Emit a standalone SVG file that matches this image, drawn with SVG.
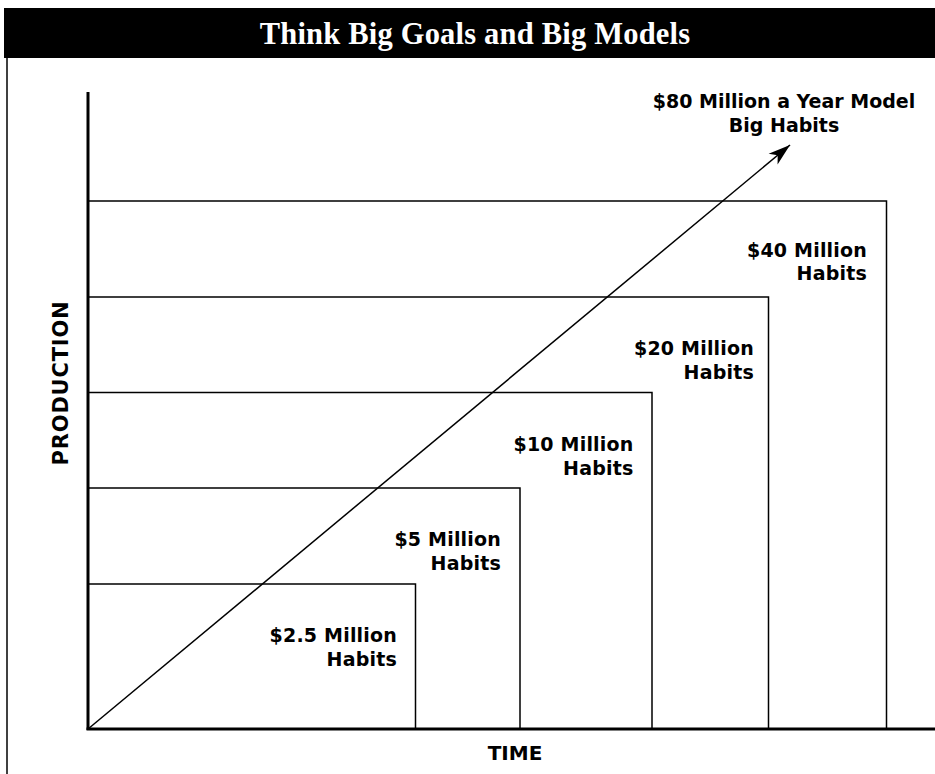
<svg xmlns="http://www.w3.org/2000/svg" width="935" height="774" viewBox="0 0 935 774">
  <style>
    .bg { fill: #ffffff; }
    .frame { stroke: #000; stroke-width: 1.5; fill: none; }
    .axis { stroke: #000; stroke-width: 3; fill: none; }
    .box { stroke: #000; stroke-width: 1.5; fill: none; }
    .conn { stroke: #000; stroke-width: 1.5; fill: none; }
    .title { font-family: "Liberation Serif", "Times New Roman", serif; font-weight: bold; font-size: 30.5px; fill: #fff; letter-spacing: 0.2px; }
    .lbl { font-family: "DejaVu Sans", "Liberation Sans", sans-serif; font-weight: bold; font-size: 19px; fill: #000; letter-spacing: 0.2px; }
    .axlbl { font-family: "DejaVu Sans", "Liberation Sans", sans-serif; font-weight: bold; font-size: 20px; fill: #000; }
  </style>
  <defs>
    <marker id="arrow" markerUnits="userSpaceOnUse" markerWidth="30" markerHeight="20" viewBox="-24 -10 26 20" refX="0" refY="0" orient="auto">
      <path d="M0,0 L-22,-7 L-16,0 L-22,7 Z" fill="#000"/>
    </marker>
  </defs>
  <rect class="bg" x="0" y="0" width="935" height="774"/>

  <g id="title">
    <rect x="4" y="8" width="931" height="50" fill="#000"/>
    <text class="title" x="475" y="44" text-anchor="middle">Think Big Goals and Big Models</text>
  </g>
  <line class="frame" x1="7" y1="58" x2="7" y2="774"/>

  <g id="axes">
    <line class="axis" x1="88" y1="92" x2="88" y2="730"/>
    <line class="axis" x1="86.5" y1="729" x2="935" y2="729"/>
    <text class="axlbl" x="515" y="760" text-anchor="middle">TIME</text>
    <text class="axlbl" transform="translate(68,383) rotate(-90)" text-anchor="middle" style="font-size:21px;letter-spacing:0.8px">PRODUCTION</text>
  </g>

  <g id="level-2-5">
    <polyline class="box" points="88,584 415.5,584 415.5,729"/>
    <text class="lbl" text-anchor="end"><tspan x="397" y="642">$2.5 Million</tspan><tspan x="397" y="665.5">Habits</tspan></text>
  </g>
  <g id="level-5">
    <polyline class="box" points="88,488 520,488 520,729"/>
    <text class="lbl" text-anchor="end"><tspan x="501" y="546">$5 Million</tspan><tspan x="501" y="569.5">Habits</tspan></text>
  </g>
  <g id="level-10">
    <polyline class="box" points="88,392.5 652,392.5 652,729"/>
    <text class="lbl" text-anchor="end"><tspan x="633.5" y="451">$10 Million</tspan><tspan x="633.5" y="474.5">Habits</tspan></text>
  </g>
  <g id="level-20">
    <polyline class="box" points="88,297 768.5,297 768.5,729"/>
    <text class="lbl" text-anchor="end"><tspan x="754" y="355">$20 Million</tspan><tspan x="754" y="378.5">Habits</tspan></text>
  </g>
  <g id="level-40">
    <polyline class="box" points="88,201 886.5,201 886.5,729"/>
    <text class="lbl" text-anchor="end"><tspan x="867" y="256.5">$40 Million</tspan><tspan x="867" y="280">Habits</tspan></text>
  </g>
  <g id="level-80">
    <text class="lbl" text-anchor="middle" style="letter-spacing:0"><tspan x="784" y="108">$80 Million a Year Model</tspan><tspan x="784" y="131.5">Big Habits</tspan></text>
  </g>

  <g id="connectors">
    <line class="conn" x1="88" y1="729" x2="790" y2="145" marker-end="url(#arrow)"/>
  </g>
</svg>
